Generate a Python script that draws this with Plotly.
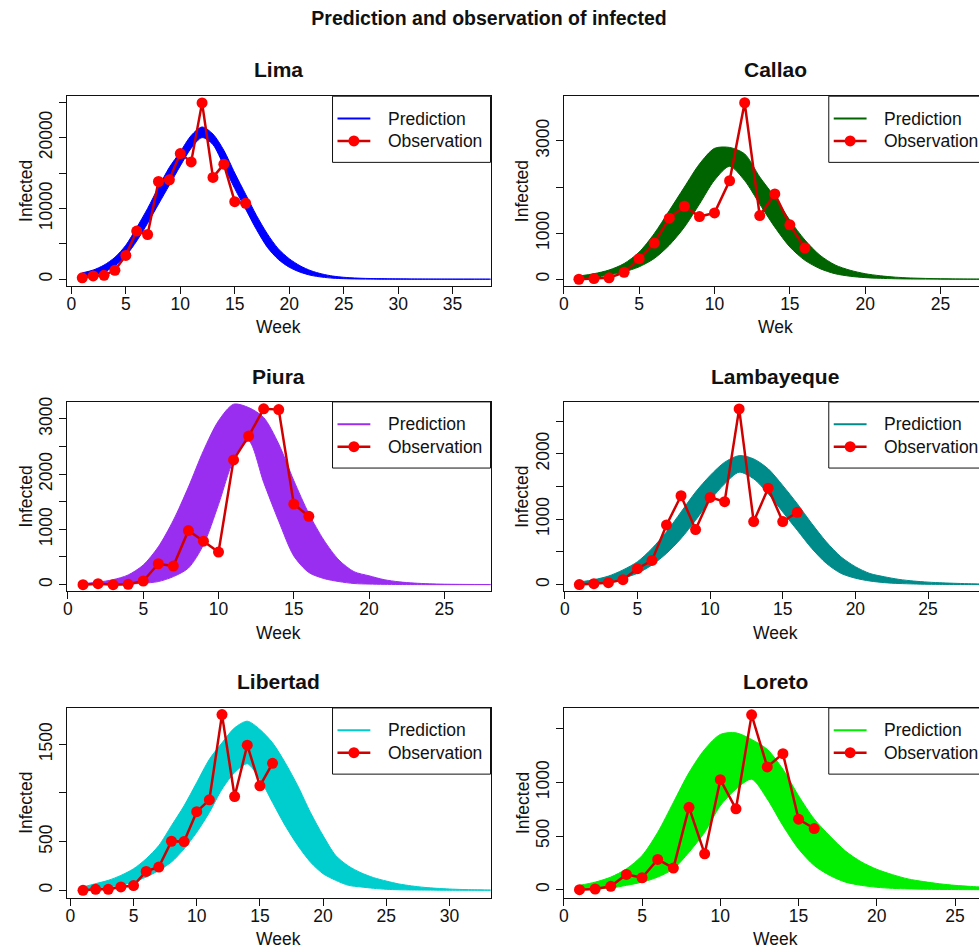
import plotly.graph_objects as go

W, H = 979, 949
FONT = "Liberation Sans, Arial, sans-serif"

# ---------------- data ----------------
regions = ["Lima", "Callao", "Piura", "Lambayeque", "Libertad", "Loreto"]
x_titles = ["Week", "Wek", "Week", "Week", "Week", "Week"]
pred_colors = ["#0000FF", "#006400", "#9A2EF0", "#008B8B", "#00CDCD", "#00EE00"]

weeks_obs = list(range(1, 17))

obs_lima = [200, 470, 560, 1260, 3370, 6800, 6320, 13800, 14050, 17750, 16570, 24900, 14380, 16250, 10960, 10730]
obs_callao = [0, 15, 30, 150, 447, 785, 1325, 1584, 1360, 1440, 2137, 3829, 1381, 1850, 1180, 677]
obs_piura = [0, 18, 0, 6, 66, 378, 336, 979, 787, 589, 2257, 2689, 3181, 3168, 1458, 1237]
obs_lambayeque = [0, 15, 30, 76, 243, 370, 912, 1358, 841, 1333, 1267, 2685, 963, 1474, 963, 1105]
obs_libertad = [0, 10, 10, 34, 48, 194, 239, 504, 501, 808, 930, 1806, 964, 1492, 1074, 1305]
obs_loreto = [0, 6, 31, 142, 111, 282, 201, 768, 334, 1026, 754, 1631, 1145, 1269, 657, 570]

# envelope of the simulated prediction curves (upper / lower), weeks 1..N
pred_upper_lima = [900, 1300, 2000, 3100, 4800, 7300, 10000, 13000, 15800, 18000, 20300, 21500, 20500,
                   18200, 15000, 12000, 9000, 6400, 4300, 2900, 1900, 1200, 750, 450, 280, 180, 120, 90,
                   70, 55, 45, 35, 30, 25, 20, 18, 15, 12, 10]
pred_lower_lima = [300, 550, 1000, 1900, 3300, 5400, 7900, 10600, 13300, 16000, 18500, 20000, 19000,
                   16000, 12800, 9900, 7000, 4500, 2800, 1700, 1000, 550, 300, 150, 80, 40, 20, 10,
                   5, 0, 0, 0, 0, 0, 0, 0, 0, 0, 0]

pred_upper_callao = [70, 120, 200, 340, 590, 990, 1490, 2000, 2500, 2840, 2860, 2720, 2220, 1780,
                     1280, 850, 520, 310, 195, 120, 75, 45, 28, 18, 11, 7, 4, 3]
pred_lower_callao = [20, 40, 90, 160, 270, 450, 740, 1130, 1630, 2150, 2450, 2140, 1630, 1130,
                     700, 410, 230, 120, 65, 35, 20, 10, 5, 3, 2, 1, 0, 0]

pred_upper_piura = [20, 45, 90, 175, 355, 684, 1165, 1765, 2425, 2965, 3265, 3205, 3025, 2545, 1885,
                    1285, 805, 445, 235, 160, 90, 50, 28, 15, 8, 5, 3, 2, 1]
pred_lower_piura = [0, 2, 5, 10, 25, 55, 145, 300, 720, 1450, 2250, 2600, 1850, 1150, 520,
                    220, 110, 55, 20, 10, 5, 2, 1, 0, 0, 0, 0, 0, 0]

pred_upper_lambayeque = [40, 75, 130, 224, 350, 553, 807, 1110, 1414, 1667, 1870, 1971, 1921, 1769,
                         1515, 1236, 933, 654, 426, 274, 170, 120, 80, 55, 38, 27, 19, 13, 9]
pred_lower_lambayeque = [12, 25, 50, 98, 173, 300, 477, 705, 983, 1287, 1540, 1717, 1616, 1389,
                         1110, 831, 553, 325, 173, 98, 55, 30, 17, 10, 5, 3, 2, 1, 1]

pred_upper_libertad = [34, 68, 102, 153, 221, 324, 460, 664, 869, 1107, 1346, 1516, 1670, 1738, 1653,
                       1516, 1312, 1073, 800, 562, 358, 250, 180, 130, 95, 65, 45, 30, 20, 13, 8, 5, 3, 2]
pred_lower_libertad = [5, 15, 34, 51, 85, 136, 204, 290, 426, 596, 800, 1039, 1210, 1300, 1142,
                       903, 665, 460, 290, 170, 102, 51, 34, 20, 10, 5, 3, 2, 1, 0, 0, 0, 0, 0]

pred_upper_loreto = [40, 70, 117, 194, 318, 535, 814, 1092, 1309, 1448, 1463, 1401, 1309, 1123, 876,
                     659, 500, 360, 260, 190, 140, 100, 75, 55, 40, 30, 22]
pred_lower_loreto = [4, 8, 15, 40, 70, 117, 194, 349, 535, 783, 938, 1030, 845, 597, 380,
                     225, 132, 70, 40, 22, 12, 7, 4, 2, 1, 0, 0]

observations = [obs_lima, obs_callao, obs_piura, obs_lambayeque, obs_libertad, obs_loreto]
pred_upper = [pred_upper_lima, pred_upper_callao, pred_upper_piura,
              pred_upper_lambayeque, pred_upper_libertad, pred_upper_loreto]
pred_lower = [pred_lower_lima, pred_lower_callao, pred_lower_piura,
              pred_lower_lambayeque, pred_lower_libertad, pred_lower_loreto]

x_tick_vals = [list(range(0, 36, 5)), list(range(0, 26, 5)), list(range(0, 26, 5)),
               list(range(0, 26, 5)), list(range(0, 31, 5)), list(range(0, 26, 5))]
y_tick_vals = [[0, 5000, 10000, 15000, 20000, 25000],
               [0, 1000, 2000, 3000],
               [0, 500, 1000, 1500, 2000, 2500, 3000],
               [0, 500, 1000, 1500, 2000, 2500],
               [0, 500, 1000, 1500],
               [0, 500, 1000, 1500]]
y_tick_text = [["0", "", "10000", "", "20000", ""],
               ["0", "1000", "", "3000"],
               ["0", "", "1000", "", "2000", "", "3000"],
               ["0", "", "1000", "", "2000", ""],
               ["0", "500", "", "1500"],
               ["0", "500", "1000", ""]]

# ---------------- layout geometry (pixels) ----------------
col_left = [62.7, 561.5]
col_right = [488.0, 987.0]          # right column runs past the page edge
row_top = [91.7, 399.0, 706.7]
row_bottom = [282.0, 589.2, 897.3]
panel_title_y = [65, 373, 680]

x_ranges = [[-0.365, 38.48], [-0.013, 27.55], [-0.04, 28.07],
            [-0.082, 28.51], [-0.236, 33.25], [-0.013, 26.53]]
y_ranges = [[-885, 25843], [-136, 3971], [-117, 3307],
            [-99, 2792], [-75, 1874], [-74, 1695]]


def px(x):
    return x / W


def py(y):
    return 1 - y / H


fig = go.Figure()
shapes = []
annotations = []
layout_axes = {}

for i, name in enumerate(regions):
    r, c = divmod(i, 2)
    ax = "" if i == 0 else str(i + 1)
    xa, ya = "x" + ax, "y" + ax
    color = pred_colors[i]
    up, lo = pred_upper[i], pred_lower[i]
    weeks_pred = list(range(1, len(up) + 1))

    fig.add_trace(go.Scatter(x=weeks_pred, y=lo, mode="lines", xaxis=xa, yaxis=ya,
                             line=dict(color=color, width=1, shape="spline", smoothing=0.8),
                             showlegend=False, hoverinfo="skip"))
    fig.add_trace(go.Scatter(x=weeks_pred, y=up, mode="lines", xaxis=xa, yaxis=ya,
                             fill="tonexty", fillcolor=color,
                             line=dict(color=color, width=1, shape="spline", smoothing=0.8),
                             name="Prediction", showlegend=False))
    fig.add_trace(go.Scatter(x=weeks_obs, y=observations[i], mode="lines+markers",
                             xaxis=xa, yaxis=ya, name="Observation", showlegend=False,
                             line=dict(color="#D00000", width=2.5),
                             marker=dict(color="#FF0000", size=11)))

    x_dom = [px(col_left[c]), min(1.0, px(col_right[c]))]
    y_dom = [py(row_bottom[r]), py(row_top[r])]
    layout_axes["xaxis" + ax] = dict(
        domain=x_dom, anchor=ya, range=x_ranges[i], tickmode="array", tickvals=x_tick_vals[i],
        showline=True, mirror=True, linecolor="#111", linewidth=1,
        ticks="outside", ticklen=7, tickcolor="#111", showgrid=False, zeroline=False,
        ticklabelstandoff=-5,
        tickfont=dict(family=FONT, size=17.5, color="#111"))
    layout_axes["yaxis" + ax] = dict(
        domain=y_dom, anchor=xa, range=y_ranges[i], tickmode="array",
        tickvals=y_tick_vals[i], ticktext=y_tick_text[i], tickangle=-90,
        showline=True, mirror=(c == 0), linecolor="#111", linewidth=1,
        ticks="outside", ticklen=7, tickcolor="#111", showgrid=False, zeroline=False,
        tickfont=dict(family=FONT, size=17.5, color="#111"))

    left, right = col_left[c], col_right[c]
    top, bottom = row_top[r], row_bottom[r]
    cx = (left + right) / 2

    # panel title and axis titles
    annotations.append(dict(text="<b>%s</b>" % name, x=px(cx), y=py(panel_title_y[r]),
                            xref="paper", yref="paper", showarrow=False,
                            xanchor="center", yanchor="middle",
                            font=dict(family=FONT, size=21, color="#111")))
    annotations.append(dict(text=x_titles[i], x=px(cx), y=py(bottom + 42),
                            xref="paper", yref="paper", showarrow=False,
                            xanchor="center", yanchor="middle",
                            font=dict(family=FONT, size=17.5, color="#111")))
    annotations.append(dict(text="Infected", x=px(left - 41.5), y=py((top + bottom) / 2),
                            xref="paper", yref="paper", showarrow=False, textangle=-90,
                            xanchor="center", yanchor="middle",
                            font=dict(family=FONT, size=17.5, color="#111")))

    # legend box (R style, top-right corner of the panel)
    lx0 = left + 266.5
    lx1 = left + 425.3
    ly0 = top
    ly1 = top + 66.5
    r1 = top + 22.5
    r2 = top + 45.0
    shapes.append(dict(type="rect", xref="paper", yref="paper",
                       x0=px(lx0), x1=px(lx1), y0=py(ly1), y1=py(ly0),
                       line=dict(color="#111", width=1), fillcolor="white", layer="above"))
    shapes.append(dict(type="line", xref="paper", yref="paper",
                       x0=px(lx0 + 5), x1=px(lx0 + 38), y0=py(r1), y1=py(r1),
                       line=dict(color=color, width=2), layer="above"))
    shapes.append(dict(type="line", xref="paper", yref="paper",
                       x0=px(lx0 + 5), x1=px(lx0 + 38), y0=py(r2), y1=py(r2),
                       line=dict(color="#D00000", width=2.5), layer="above"))
    mx = lx0 + 21.5
    shapes.append(dict(type="circle", xref="paper", yref="paper",
                       x0=px(mx - 5.5), x1=px(mx + 5.5), y0=py(r2 + 5.5), y1=py(r2 - 5.5),
                       line=dict(width=0), fillcolor="#FF0000", layer="above"))
    for txt, yy in (("Prediction", r1), ("Observation", r2)):
        annotations.append(dict(text=txt, x=px(lx0 + 54), y=py(yy), xref="paper", yref="paper",
                                showarrow=False, xanchor="left", yanchor="middle",
                                font=dict(family=FONT, size=17.5, color="#111")))

fig.update_layout(
    width=W, height=H, autosize=False,
    margin=dict(l=0, r=0, t=0, b=0),
    paper_bgcolor="white", plot_bgcolor="white",
    showlegend=False,
    title=dict(text="<b>Prediction and observation of infected</b>", x=489 / W, xanchor="center",
               y=1 - 18 / H, yanchor="middle", yref="container",
               font=dict(family=FONT, size=19.5, color="#111")),
    shapes=shapes, annotations=annotations,
    **layout_axes,
)

fig.write_html("out.html")
